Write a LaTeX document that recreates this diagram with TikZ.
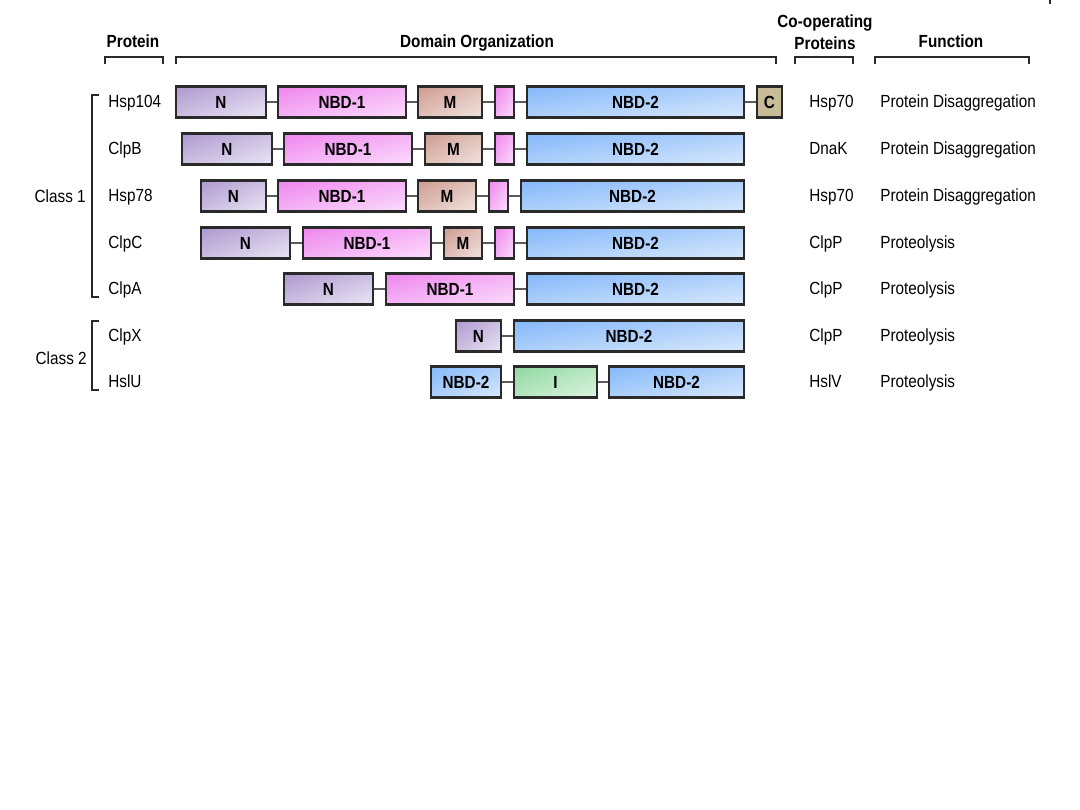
\documentclass[tikz,border=0pt]{standalone}
\usepackage{fontspec}
\usetikzlibrary{shadings}
\setmainfont{Liberation Sans}[FakeStretch=0.87]
\definecolor{Ntl}{HTML}{AE98D0}\definecolor{Nbr}{HTML}{EAE6F4}
\definecolor{Ptl}{HTML}{EE86EE}\definecolor{Pbr}{HTML}{FCDDFC}
\definecolor{Mtl}{HTML}{CE9C90}\definecolor{Mbr}{HTML}{F2E4E0}
\definecolor{Btl}{HTML}{84B8FA}\definecolor{Bbr}{HTML}{D8E8FC}
\definecolor{Gtl}{HTML}{90D8A0}\definecolor{Gbr}{HTML}{DCF4E0}
\definecolor{Cfill}{HTML}{C8BC98}
\definecolor{edge}{HTML}{2A2A2A}
\definecolor{linkc}{HTML}{5A5A5A}
\newcommand\dbox[6]{\node[dbox,#5,minimum width={(#3-#2)*0.02cm}] (#1) at ({(#2+#3)/2},#4) {#6};}
\tikzset{
  dbox/.style={draw=edge, line width=1.4pt, minimum height=0.62cm, inner sep=0pt, font=\bfseries\fontsize{10}{12}\selectfont},
  grad/.style 2 args={upper left=#1, lower right=#2, upper right=#1!50!#2, lower left=#1!50!#2},
  ndom/.style={grad={Ntl}{Nbr}},
  pdom/.style={grad={Ptl}{Pbr}},
  mdom/.style={grad={Mtl}{Mbr}},
  bdom/.style={grad={Btl}{Bbr}},
  gdom/.style={grad={Gtl}{Gbr}},
  cdom/.style={fill=Cfill},
  link/.style={draw=linkc, line width=1.2pt},
  brk/.style={draw=edge, line width=0.9pt},
  hdr/.style={font=\bfseries\fontsize{10}{12}\selectfont, inner sep=0pt, anchor=base},
  lbl/.style={font=\fontsize{10}{12}\selectfont, inner sep=0pt, anchor=base west},
  cls/.style={font=\fontsize{10}{12}\selectfont, inner sep=0pt, anchor=base east}
}
\begin{document}
\begin{tikzpicture}[x=0.02cm, y=-0.02cm]
\useasboundingbox (0,0) rectangle (1080,810);
% headers
\node[hdr] (hprot) at (133,48) {Protein};
\node[hdr] (hdom) at (477,48) {Domain Organization};
\node[hdr] (hco1) at (825,28) {Co-operating};
\node[hdr] (hco2) at (825,50) {Proteins};
\node[hdr] (hfun) at (951,48) {Function};
\draw[brk] (105,64) -- (105,57) -- (163,57) -- (163,64);
\draw[brk] (176,64) -- (176,57) -- (776,57) -- (776,64);
\draw[brk] (795,64) -- (795,57) -- (853,57) -- (853,64);
\draw[brk] (875,64) -- (875,57) -- (1029,57) -- (1029,64);
\draw[edge, line width=0.8pt] (1050,0) -- (1050,4);
% class brackets
\draw[brk] (99,95) -- (92,95) -- (92,297) -- (99,297);
\draw[brk] (99,321) -- (92,321) -- (92,390) -- (99,390);
\node[cls] (c1) at (86,203) {Class 1};
\node[cls] (c2) at (87,365) {Class 2};
% row labels
\node[lbl] (p1) at (108,108) {Hsp104};
\node[lbl] (p2) at (108,155) {ClpB};
\node[lbl] (p3) at (108,202) {Hsp78};
\node[lbl] (p4) at (108,249) {ClpC};
\node[lbl] (p5) at (108,295) {ClpA};
\node[lbl] (p6) at (108,342) {ClpX};
\node[lbl] (p7) at (108,388) {HslU};
\node[lbl] (q1) at (809,108) {Hsp70};
\node[lbl] (q2) at (809,155) {DnaK};
\node[lbl] (q3) at (809,202) {Hsp70};
\node[lbl] (q4) at (809,249) {ClpP};
\node[lbl] (q5) at (809,295) {ClpP};
\node[lbl] (q6) at (809,342) {ClpP};
\node[lbl] (q7) at (809,388) {HslV};
\node[lbl] (f1) at (880,108) {Protein Disaggregation};
\node[lbl] (f2) at (880,155) {Protein Disaggregation};
\node[lbl] (f3) at (880,202) {Protein Disaggregation};
\node[lbl] (f4) at (880,249) {Proteolysis};
\node[lbl] (f5) at (880,295) {Proteolysis};
\node[lbl] (f6) at (880,342) {Proteolysis};
\node[lbl] (f7) at (880,388) {Proteolysis};
% row 1 Hsp104
\dbox{a1}{176}{266}{102}{ndom}{N}
\dbox{a2}{278}{406}{102}{pdom}{NBD-1}
\dbox{a3}{418}{482}{102}{mdom}{M}
\dbox{a4}{495}{514}{102}{pdom}{}
\dbox{a5}{527}{744}{102}{bdom}{NBD-2}
\dbox{a6}{757}{782}{102}{cdom}{C}
\draw[link] (a1) -- (a2); \draw[link] (a2) -- (a3); \draw[link] (a3) -- (a4);
\draw[link] (a4) -- (a5); \draw[link] (a5) -- (a6);
% row 2 ClpB
\dbox{b1}{182}{272}{149}{ndom}{N}
\dbox{b2}{284}{412}{149}{pdom}{NBD-1}
\dbox{b3}{425}{482}{149}{mdom}{M}
\dbox{b4}{495}{514}{149}{pdom}{}
\dbox{b5}{527}{744}{149}{bdom}{NBD-2}
\draw[link] (b1) -- (b2); \draw[link] (b2) -- (b3); \draw[link] (b3) -- (b4);
\draw[link] (b4) -- (b5);
% row 3 Hsp78
\dbox{c1b}{201}{266}{196}{ndom}{N}
\dbox{c2b}{278}{406}{196}{pdom}{NBD-1}
\dbox{c3b}{418}{476}{196}{mdom}{M}
\dbox{c4b}{489}{508}{196}{pdom}{}
\dbox{c5b}{521}{744}{196}{bdom}{NBD-2}
\draw[link] (c1b) -- (c2b); \draw[link] (c2b) -- (c3b); \draw[link] (c3b) -- (c4b);
\draw[link] (c4b) -- (c5b);
% row 4 ClpC
\dbox{d1}{201}{290}{243}{ndom}{N}
\dbox{d2}{303}{431}{243}{pdom}{NBD-1}
\dbox{d3}{444}{482}{243}{mdom}{M}
\dbox{d4}{495}{514}{243}{pdom}{}
\dbox{d5}{527}{744}{243}{bdom}{NBD-2}
\draw[link] (d1) -- (d2); \draw[link] (d2) -- (d3); \draw[link] (d3) -- (d4);
\draw[link] (d4) -- (d5);
% row 5 ClpA
\dbox{e1}{284}{373}{289}{ndom}{N}
\dbox{e2}{386}{514}{289}{pdom}{NBD-1}
\dbox{e3}{527}{744}{289}{bdom}{NBD-2}
\draw[link] (e1) -- (e2); \draw[link] (e2) -- (e3);
% row 6 ClpX
\dbox{g1}{456}{501}{336}{ndom}{N}
\dbox{g2}{514}{744}{336}{bdom}{NBD-2}
\draw[link] (g1) -- (g2);
% row 7 HslU
\dbox{h1}{431}{501}{382}{bdom}{NBD-2}
\dbox{h2}{514}{597}{382}{gdom}{I}
\dbox{h3}{609}{744}{382}{bdom}{NBD-2}
\draw[link] (h1) -- (h2); \draw[link] (h2) -- (h3);
\end{tikzpicture}
\end{document}
